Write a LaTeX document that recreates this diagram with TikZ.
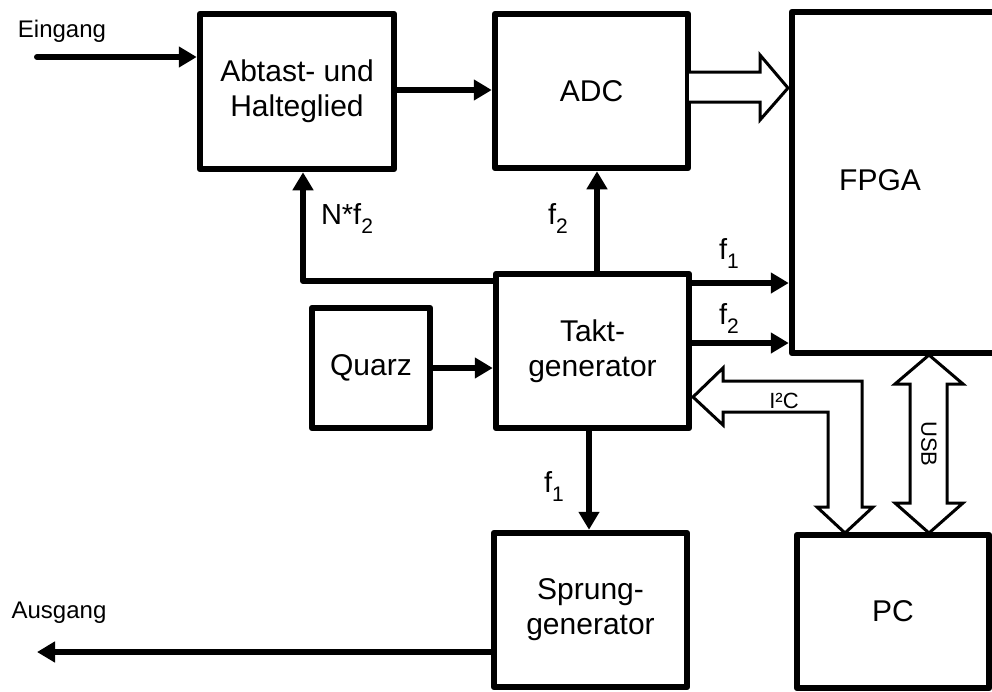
\documentclass[tikz,border=0pt]{standalone}
\usepackage{fontspec}
\setmainfont{Liberation Sans}
\usetikzlibrary{arrows.meta,calc}
\newcommand{\fsub}[1]{\raisebox{-9pt}{\fontsize{21}{21}\selectfont #1}}
\begin{document}
\begin{tikzpicture}[x=1pt,y=-1pt,
  box/.style={draw, line width=6.5pt, line join=round, inner sep=0pt, align=center,
    font=\fontsize{30}{35}\selectfont},
  arr/.style={line width=6pt, line cap=round, line join=round, -{Triangle[length=18pt,width=20pt]}},
  lbl/.style={font=\fontsize{29}{30}\selectfont, inner sep=0pt, anchor=base},
  side/.style={font=\fontsize{24}{26}\selectfont, inner sep=0pt},
  small/.style={font=\fontsize{22}{24}\selectfont, inner sep=0pt},
  hollow/.style={draw, fill=white, line width=3pt, line join=miter}]
\useasboundingbox (0,0) rectangle (992,691);
% boxes
\node[box, minimum width=194pt, minimum height=155pt] (abt) at (297,91.5) {Abtast- und\\Halteglied};
\node[box, minimum width=193pt, minimum height=154pt] (adc) at (591.5,91) {ADC};
\node[box, minimum width=208pt, minimum height=341pt] (fpga) at (896,182.5) {};
\node[box, draw=none] (fpgatxt) at (880,180) {FPGA};
\node[box, minimum width=193pt, minimum height=154pt] (takt) at (592.5,351) {Takt-\\generator};
\node[box, minimum width=118pt, minimum height=120pt] (quarz) at (371,368) {Quarz};
\node[box, minimum width=193pt, minimum height=154pt] (sprung) at (590.5,610) {Sprung-\\generator};
\node[box, minimum width=192pt, minimum height=153pt] (pc) at (893,611.5) {PC};
% coordinates
\coordinate (ein) at (37,57);
\coordinate (aus) at (37,652);
\coordinate (fb) at (303,281);
\coordinate (yf1) at (0,283);
\coordinate (yf2) at (0,343);
\coordinate (xa) at (597,0);
\coordinate (xs) at (589,0);
% connectors
\draw[arr] (ein) -- (ein -| abt.west);
\draw[arr] (abt.east |- 0,90) -- (adc.west |- 0,90);
\draw[arr] (takt.north -| xa) -- (adc.south -| xa);
\draw[arr] (takt.west |- fb) -- (fb) -- (fb |- abt.south);
\draw[arr] (quarz.east) -- (quarz.east -| takt.west);
\draw[arr] (takt.east |- yf1) -- (fpga.west |- yf1);
\draw[arr] (takt.east |- yf2) -- (fpga.west |- yf2);
\draw[arr] (takt.south -| xs) -- (sprung.north -| xs);
\draw[arr] (sprung.west |- aus) -- (aus);
% hollow arrows
\draw[hollow] (689,72) -- (760,72) -- (760,55) -- (788,88) -- (760,120) -- (760,102) -- (689,102);
\draw[hollow] (873,507) -- (862,507) -- (862,381) -- (723,381) -- (723,368) -- (693,397)
  -- (723,425) -- (723,412) -- (828,412) -- (828,507) -- (817,507) -- (845,533) -- cycle;
\draw[hollow] (910,384) -- (895,384) -- (929,355) -- (963,384) -- (947,384) -- (947,503)
  -- (963,503) -- (929,533) -- (895,503) -- (910,503) -- cycle;
% labels
\node[side] (leing) at (62,31) {Eingang};
\node[side] (lausg) at (59,613) {Ausgang};
\node[lbl] (lnf) at (347,224) {N*f\fsub{2}};
\node[lbl] (lf2a) at (558,224) {f\fsub{2}};
\node[lbl] (lf1b) at (729,259) {f\fsub{1}};
\node[lbl] (lf2b) at (729,324) {f\fsub{2}};
\node[lbl] (lf1c) at (554,492) {f\fsub{1}};
\node[small] (li2c) at (784,401) {I²C};
\node[small, rotate=-90] (lusb) at (929,444) {USB};
\end{tikzpicture}
\end{document}
